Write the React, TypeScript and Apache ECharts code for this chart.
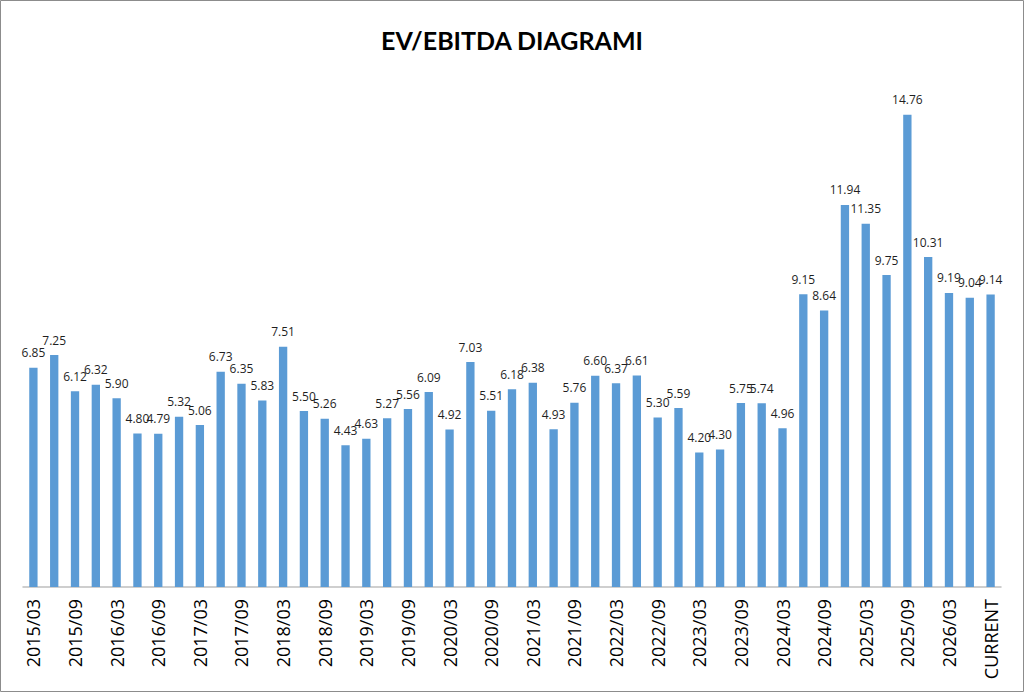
import React, { useEffect, useRef } from "react";
import * as echarts from "echarts";

const categories = [
  "2015/03", "2015/06", "2015/09", "2015/12",
  "2016/03", "2016/06", "2016/09", "2016/12",
  "2017/03", "2017/06", "2017/09", "2017/12",
  "2018/03", "2018/06", "2018/09", "2018/12",
  "2019/03", "2019/06", "2019/09", "2019/12",
  "2020/03", "2020/06", "2020/09", "2020/12",
  "2021/03", "2021/06", "2021/09", "2021/12",
  "2022/03", "2022/06", "2022/09", "2022/12",
  "2023/03", "2023/06", "2023/09", "2023/12",
  "2024/03", "2024/06", "2024/09", "2024/12",
  "2025/03", "2025/06", "2025/09", "2025/12",
  "2026/03", "2026/06", "CURRENT",
];

const evEbitda = [
  6.85, 7.25, 6.12, 6.32,
  5.90, 4.80, 4.79, 5.32,
  5.06, 6.73, 6.35, 5.83,
  7.51, 5.50, 5.26, 4.43,
  4.63, 5.27, 5.56, 6.09,
  4.92, 7.03, 5.51, 6.18,
  6.38, 4.93, 5.76, 6.60,
  6.37, 6.61, 5.30, 5.59,
  4.20, 4.30, 5.75, 5.74,
  4.96, 9.15, 8.64, 11.94,
  11.35, 9.75, 14.76, 10.31,
  9.19, 9.04, 9.14,
];

const titleText = "EV/EBITDA DIAGRAMI";

export default function App() {
  const ref = useRef<HTMLDivElement>(null);
  useEffect(() => {
    if (!ref.current) return;
    const chart = echarts.init(ref.current, undefined, { renderer: "svg" });
    chart.setOption({
      animation: false,
      backgroundColor: "#ffffff",
      title: {
        text: titleText,
        left: "center",
        top: 22,
        textStyle: {
          fontFamily: "Lato",
          fontWeight: "bold",
          fontSize: 25,
          color: "#000000",
        },
      },
      graphic: [
        {
          type: "rect",
          shape: { x: 0.5, y: 0.5, width: 1023, height: 691 },
          style: { fill: "none", stroke: "#8c8c8c", lineWidth: 1 },
          silent: true,
        },
      ],
      grid: { left: 23, right: 23, top: 75, bottom: 105 },
      xAxis: {
        type: "category",
        data: categories,
        axisLine: { lineStyle: { color: "#bfbfbf", width: 1.5 } },
        axisTick: { show: false },
        axisLabel: {
          interval: 1,
          rotate: 90,
          margin: 12,
          fontFamily: "Open Sans",
          fontSize: 18,
          color: "#000000",
        },
      },
      yAxis: {
        type: "value",
        min: 0,
        max: 16,
        show: false,
        splitLine: { show: false },
      },
      series: [
        {
          type: "bar",
          data: evEbitda,
          barWidth: "40%",
          itemStyle: { color: "#5b9bd5" },
          label: {
            show: true,
            position: "top",
            distance: 9,
            fontFamily: "Open Sans",
            fontSize: 12,
            color: "#1f1f1f",
            formatter: (p: any) => Number(p.value).toFixed(2),
          },
        },
      ],
    });
    return () => chart.dispose();
  }, []);
  return (
    <div
      ref={ref}
      style={{ position: "absolute", left: 0, top: 0, width: 1024, height: 692 }}
    />
  );
}
